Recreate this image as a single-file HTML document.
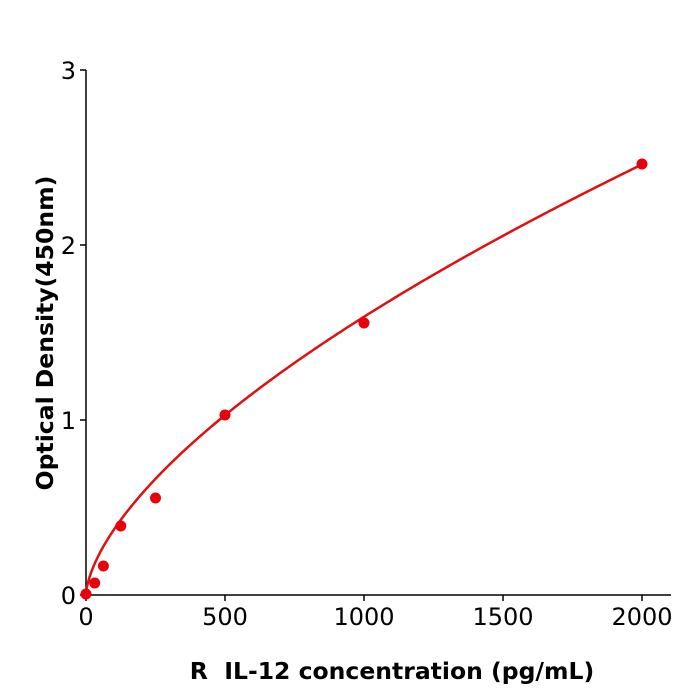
<!DOCTYPE html>
<html><head><meta charset="utf-8"><style>body{margin:0;background:#fff}svg{display:block}</style></head>
<body>
<svg id="s" width="700" height="700" xmlns="http://www.w3.org/2000/svg" font-family="DejaVu Sans, Liberation Sans, sans-serif">
<g stroke="#000" stroke-width="1.5" fill="none">
<line x1="86" y1="70" x2="86" y2="596"/>
<line x1="85" y1="595" x2="671" y2="595"/>
<line x1="80" y1="595" x2="86" y2="595"/>
<line x1="80" y1="420" x2="86" y2="420"/>
<line x1="80" y1="245" x2="86" y2="245"/>
<line x1="80" y1="70" x2="86" y2="70"/>
<line x1="86" y1="595" x2="86" y2="601"/>
<line x1="225" y1="595" x2="225" y2="601"/>
<line x1="364" y1="595" x2="364" y2="601"/>
<line x1="503" y1="595" x2="503" y2="601"/>
<line x1="642" y1="595" x2="642" y2="601"/>
</g>
<g font-size="24" fill="#000" text-anchor="end">
<text x="76" y="604">0</text><text x="76" y="429">1</text><text x="76" y="254">2</text><text x="76" y="79">3</text>
</g>
<g font-size="24" fill="#000" text-anchor="middle">
<text x="86" y="625">0</text><text x="225" y="625">500</text><text x="364" y="625">1000</text><text x="503" y="625">1500</text><text x="642" y="625">2000</text>
</g>
<text x="392" y="679" font-size="23.5" font-weight="bold" text-anchor="middle" style="white-space:pre" xml:space="preserve">R  IL-12 concentration (pg/mL)</text>
<text transform="translate(53,333) rotate(-90)" font-size="23.5" font-weight="bold" text-anchor="middle">Optical Density(450nm)</text>
<path id="c" fill="none" stroke="#e01010" stroke-width="2.5"/>
<g fill="#e8000b">
<circle cx="86" cy="594" r="5.5"/><circle cx="94.7" cy="583" r="5.5"/><circle cx="103.4" cy="566" r="5.5"/><circle cx="120.8" cy="526" r="5.5"/><circle cx="155.5" cy="498" r="5.5"/><circle cx="225" cy="415" r="5.5"/><circle cx="364" cy="323" r="5.5"/><circle cx="642" cy="164" r="5.5"/>
</g>
</svg>
<script>
var d="";for(var i=0;i<=400;i++){var v=2000*Math.pow(i/400,2);var y=0.02048*Math.pow(v,0.63);d+=(i?"L":"M")+(86+0.278*v).toFixed(2)+" "+(595-175*y).toFixed(2);}
document.getElementById("c").setAttribute("d",d);
</script>
</body></html>
